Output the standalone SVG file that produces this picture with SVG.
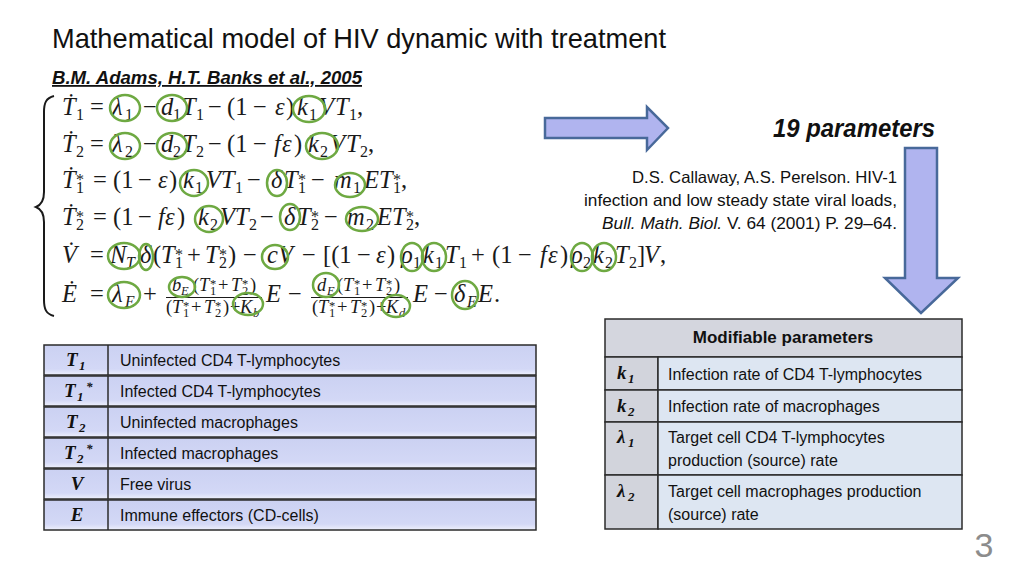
<svg xmlns="http://www.w3.org/2000/svg" width="1024" height="576" viewBox="0 0 1024 576">
<defs>
<style>
.eq{font-family:"Liberation Serif","DejaVu Serif",serif;font-size:24.5px;fill:#1a1a1a}
.i{font-style:italic}
.s{font-size:16px}
.f{font-size:18.5px}
.fs{font-size:12.5px}
.hl{fill:none;stroke:#6EA942;stroke-width:2.5}
.sans{font-family:"Liberation Sans","Arial",sans-serif;fill:#111}
.cell{font-family:"Liberation Sans","Arial",sans-serif;font-size:16px;fill:#111}
.mv{font-family:"Liberation Serif","DejaVu Serif",serif;font-weight:bold;font-style:italic;font-size:19px;fill:#111}
.mvs{font-size:13px}
.row{fill:url(#rowg);stroke:#2b2b2b;stroke-width:1.5}
.div{stroke:#2b2b2b;stroke-width:1.5}
.arrow{fill:#B0B4EF;stroke:#48699A;stroke-width:2.5;stroke-linejoin:miter}
</style>
<linearGradient id="rowg" x1="0" y1="0" x2="0" y2="1">
<stop offset="0" stop-color="#CBD1F2"/>
<stop offset="0.8" stop-color="#D3D8F6"/>
<stop offset="1" stop-color="#EEF0FC"/>
</linearGradient>
</defs>
<rect width="1024" height="576" fill="#ffffff"/>

<g id="title">
<text class="sans" x="52" y="48" font-size="28" textLength="614" lengthAdjust="spacingAndGlyphs">Mathematical model of HIV dynamic with treatment</text>
</g>
<g id="subtitle">
<text class="sans" x="52" y="84" font-size="18" font-weight="bold" font-style="italic" text-decoration="underline" textLength="310" lengthAdjust="spacingAndGlyphs">B.M. Adams, H.T. Banks et al., 2005</text>
</g>

<g id="equations">
<path d="M54,96 C46,98 44,103 44,112 L44,192 C44,200 41,205 36,207 C41,209 44,214 44,222 L44,300 C44,309 46,314 54,316" fill="none" stroke="#1a1a1a" stroke-width="2"/>
<!-- row 1 -->
<text class="eq">
<tspan class="i" x="62" y="115">Ṫ</tspan><tspan class="s" x="76" y="120">1</tspan>
<tspan x="90" y="115">=</tspan>
<tspan class="i" x="112" y="115">λ</tspan><tspan class="s" x="125" y="120">1</tspan>
<tspan x="143" y="115">−</tspan>
<tspan class="i" x="161" y="115">d</tspan><tspan class="s" x="173" y="120">1</tspan>
<tspan class="i" x="182" y="115">T</tspan><tspan class="s" x="196" y="120">1</tspan>
<tspan x="208" y="115">−</tspan><tspan x="227" y="115">(1</tspan><tspan x="253" y="115">−</tspan>
<tspan class="i" x="275" y="115">ε</tspan><tspan x="286" y="115">)</tspan>
<tspan class="i" x="297" y="115">k</tspan><tspan class="s" x="309" y="120">1</tspan>
<tspan class="i" x="319" y="115">V</tspan><tspan class="i" x="335" y="115">T</tspan><tspan class="s" x="349" y="120">1</tspan><tspan x="357" y="115">,</tspan>
</text>
<!-- row 2 -->
<text class="eq">
<tspan class="i" x="62" y="152">Ṫ</tspan><tspan class="s" x="76" y="157">2</tspan>
<tspan x="90" y="152">=</tspan>
<tspan class="i" x="112" y="152">λ</tspan><tspan class="s" x="125" y="157">2</tspan>
<tspan x="143" y="152">−</tspan>
<tspan class="i" x="161" y="152">d</tspan><tspan class="s" x="173" y="157">2</tspan>
<tspan class="i" x="182" y="152">T</tspan><tspan class="s" x="196" y="157">2</tspan>
<tspan x="208" y="152">−</tspan><tspan x="227" y="152">(1</tspan><tspan x="253" y="152">−</tspan>
<tspan class="i" x="274" y="152">f</tspan><tspan class="i" x="282" y="152">ε</tspan><tspan x="294" y="152">)</tspan>
<tspan class="i" x="308" y="152">k</tspan><tspan class="s" x="320" y="157">2</tspan>
<tspan class="i" x="330" y="152">V</tspan><tspan class="i" x="346" y="152">T</tspan><tspan class="s" x="360" y="157">2</tspan><tspan x="368" y="152">,</tspan>
</text>
<!-- row 3 -->
<text class="eq">
<tspan class="i" x="62" y="188">Ṫ</tspan><tspan class="s" x="76" y="193">1</tspan><tspan class="s" x="76" y="185">*</tspan>
<tspan x="93" y="188">=</tspan>
<tspan x="113" y="188">(1</tspan><tspan x="138" y="188">−</tspan>
<tspan class="i" x="158" y="188">ε</tspan><tspan x="169" y="188">)</tspan>
<tspan class="i" x="183" y="188">k</tspan><tspan class="s" x="195" y="193">1</tspan>
<tspan class="i" x="206" y="188">V</tspan><tspan class="i" x="221" y="188">T</tspan><tspan class="s" x="235" y="193">1</tspan>
<tspan x="247" y="188">−</tspan>
<tspan class="i" x="271" y="188">δ</tspan>
<tspan class="i" x="284" y="188">T</tspan><tspan class="s" x="298" y="193">1</tspan><tspan class="s" x="298" y="185">*</tspan>
<tspan x="311" y="188">−</tspan>
<tspan class="i" x="334" y="188">m</tspan><tspan class="s" x="353" y="193">1</tspan>
<tspan class="i" x="364" y="188">E</tspan><tspan class="i" x="379" y="188">T</tspan><tspan class="s" x="393" y="193">1</tspan><tspan class="s" x="393" y="185">*</tspan><tspan x="401" y="188">,</tspan>
</text>
<!-- row 4 -->
<text class="eq">
<tspan class="i" x="62" y="225">Ṫ</tspan><tspan class="s" x="76" y="230">2</tspan><tspan class="s" x="76" y="222">*</tspan>
<tspan x="93" y="225">=</tspan>
<tspan x="113" y="225">(1</tspan><tspan x="138" y="225">−</tspan>
<tspan class="i" x="158" y="225">f</tspan><tspan class="i" x="165" y="225">ε</tspan><tspan x="177" y="225">)</tspan>
<tspan class="i" x="198" y="225">k</tspan><tspan class="s" x="210" y="230">2</tspan>
<tspan class="i" x="220" y="225">V</tspan><tspan class="i" x="235" y="225">T</tspan><tspan class="s" x="249" y="230">2</tspan>
<tspan x="260" y="225">−</tspan>
<tspan class="i" x="284" y="225">δ</tspan>
<tspan class="i" x="297" y="225">T</tspan><tspan class="s" x="311" y="230">2</tspan><tspan class="s" x="311" y="222">*</tspan>
<tspan x="324" y="225">−</tspan>
<tspan class="i" x="347" y="225">m</tspan><tspan class="s" x="366" y="230">2</tspan>
<tspan class="i" x="377" y="225">E</tspan><tspan class="i" x="392" y="225">T</tspan><tspan class="s" x="406" y="230">2</tspan><tspan class="s" x="406" y="222">*</tspan><tspan x="414" y="225">,</tspan>
</text>
<!-- row 5 -->
<text class="eq">
<tspan class="i" x="62" y="263">V̇</tspan>
<tspan x="90" y="263">=</tspan>
<tspan class="i" x="110" y="263">N</tspan><tspan class="s i" x="126" y="268">T</tspan>
<tspan class="i" x="140" y="263">δ</tspan><tspan x="153" y="263">(</tspan>
<tspan class="i" x="161" y="263">T</tspan><tspan class="s" x="175" y="268">1</tspan><tspan class="s" x="175" y="260">*</tspan>
<tspan x="187" y="263">+</tspan>
<tspan class="i" x="205" y="263">T</tspan><tspan class="s" x="219" y="268">2</tspan><tspan class="s" x="219" y="260">*</tspan><tspan x="228" y="263">)</tspan>
<tspan x="243" y="263">−</tspan>
<tspan class="i" x="267" y="263">c</tspan><tspan class="i" x="278" y="263">V</tspan>
<tspan x="302" y="263">−</tspan>
<tspan x="323" y="263">[(1</tspan><tspan x="357" y="263">−</tspan>
<tspan class="i" x="376" y="263">ε</tspan><tspan x="387" y="263">)</tspan>
<tspan class="i" x="401" y="263">ρ</tspan><tspan class="s" x="413" y="268">1</tspan>
<tspan class="i" x="423" y="263">k</tspan><tspan class="s" x="435" y="268">1</tspan>
<tspan class="i" x="445" y="263">T</tspan><tspan class="s" x="459" y="268">1</tspan>
<tspan x="471" y="263">+</tspan>
<tspan x="492" y="263">(1</tspan><tspan x="518" y="263">−</tspan>
<tspan class="i" x="540" y="263">f</tspan><tspan class="i" x="548" y="263">ε</tspan><tspan x="560" y="263">)</tspan>
<tspan class="i" x="571" y="263">ρ</tspan><tspan class="s" x="583" y="268">2</tspan>
<tspan class="i" x="593" y="263">k</tspan><tspan class="s" x="605" y="268">2</tspan>
<tspan class="i" x="615" y="263">T</tspan><tspan class="s" x="629" y="268">2</tspan>
<tspan x="637" y="263">]</tspan><tspan class="i" x="644" y="263">V</tspan><tspan x="660" y="263">,</tspan>
</text>
<!-- row 6 -->
<text class="eq">
<tspan class="i" x="62" y="302">Ė</tspan>
<tspan x="90" y="302">=</tspan>
<tspan class="i" x="112" y="302">λ</tspan><tspan class="s i" x="125" y="307">E</tspan>
<tspan x="143" y="302">+</tspan>
<tspan class="i" x="266" y="302">E</tspan>
<tspan x="288" y="302">−</tspan>
<tspan class="i" x="413" y="302">E</tspan>
<tspan x="434" y="302">−</tspan>
<tspan class="i" x="454" y="302">δ</tspan><tspan class="s i" x="467" y="307">E</tspan>
<tspan class="i" x="478" y="302">E</tspan><tspan x="494" y="302">.</tspan>
</text>
<text class="eq f">
<tspan class="i" x="172" y="291">b</tspan><tspan class="fs i" x="181" y="295">E</tspan>
<tspan x="193" y="291">(</tspan><tspan class="i" x="199" y="291">T</tspan><tspan class="fs" x="210" y="295">1</tspan><tspan class="fs" x="210" y="288">*</tspan>
<tspan x="218" y="291">+</tspan><tspan class="i" x="231" y="291">T</tspan><tspan class="fs" x="242" y="295">2</tspan><tspan class="fs" x="242" y="288">*</tspan><tspan x="250" y="291">)</tspan>
<tspan x="166" y="313">(</tspan><tspan class="i" x="172" y="313">T</tspan><tspan class="fs" x="183" y="317">1</tspan><tspan class="fs" x="183" y="310">*</tspan>
<tspan x="191" y="313">+</tspan><tspan class="i" x="204" y="313">T</tspan><tspan class="fs" x="215" y="317">2</tspan><tspan class="fs" x="215" y="310">*</tspan><tspan x="223" y="313">)</tspan>
<tspan x="230" y="313">+</tspan><tspan class="i" x="240" y="313">K</tspan><tspan class="fs i" x="253" y="317">b</tspan>
<tspan class="i" x="317" y="291">d</tspan><tspan class="fs i" x="327" y="295">E</tspan>
<tspan x="337" y="291">(</tspan><tspan class="i" x="343" y="291">T</tspan><tspan class="fs" x="354" y="295">1</tspan><tspan class="fs" x="354" y="288">*</tspan>
<tspan x="362" y="291">+</tspan><tspan class="i" x="375" y="291">T</tspan><tspan class="fs" x="386" y="295">2</tspan><tspan class="fs" x="386" y="288">*</tspan><tspan x="394" y="291">)</tspan>
<tspan x="312" y="313">(</tspan><tspan class="i" x="318" y="313">T</tspan><tspan class="fs" x="329" y="317">1</tspan><tspan class="fs" x="329" y="310">*</tspan>
<tspan x="337" y="313">+</tspan><tspan class="i" x="350" y="313">T</tspan><tspan class="fs" x="361" y="317">2</tspan><tspan class="fs" x="361" y="310">*</tspan><tspan x="369" y="313">)</tspan>
<tspan x="376" y="313">+</tspan><tspan class="i" x="386" y="313">K</tspan><tspan class="fs i" x="399" y="317">d</tspan>
</text>
<line x1="166" y1="297.5" x2="262" y2="297.5" stroke="#1a1a1a" stroke-width="1"/>
<line x1="311" y1="297.5" x2="408" y2="297.5" stroke="#1a1a1a" stroke-width="1"/>
</g>

<g id="highlights">
<ellipse class="hl" cx="125" cy="108" rx="15" ry="13"/>
<ellipse class="hl" cx="172" cy="108" rx="15" ry="13"/>
<ellipse class="hl" cx="309" cy="109" rx="16" ry="13"/>
<ellipse class="hl" cx="125" cy="146" rx="15" ry="13"/>
<ellipse class="hl" cx="172" cy="146" rx="15" ry="13"/>
<ellipse class="hl" cx="322" cy="146" rx="16" ry="13"/>
<ellipse class="hl" cx="194" cy="183" rx="14" ry="13"/>
<ellipse class="hl" cx="277" cy="183" rx="10" ry="13"/>
<ellipse class="hl" cx="350" cy="185" rx="15" ry="12"/>
<ellipse class="hl" cx="209" cy="219" rx="14" ry="13"/>
<ellipse class="hl" cx="290" cy="217" rx="10" ry="13"/>
<ellipse class="hl" cx="362" cy="219" rx="16" ry="12"/>
<ellipse class="hl" cx="124" cy="256" rx="16" ry="13"/>
<ellipse class="hl" cx="146" cy="257" rx="7" ry="13"/>
<ellipse class="hl" cx="275" cy="257" rx="13" ry="12"/>
<ellipse class="hl" cx="412" cy="257" rx="11" ry="14"/>
<ellipse class="hl" cx="434" cy="257" rx="12" ry="14"/>
<ellipse class="hl" cx="582" cy="257" rx="11" ry="14"/>
<ellipse class="hl" cx="604" cy="257" rx="12" ry="14"/>
<ellipse class="hl" cx="124" cy="295" rx="16" ry="13"/>
<ellipse class="hl" cx="182" cy="287" rx="13" ry="10"/>
<ellipse class="hl" cx="248" cy="304" rx="15" ry="11"/>
<ellipse class="hl" cx="326" cy="285" rx="13" ry="12"/>
<ellipse class="hl" cx="396" cy="306" rx="14" ry="11"/>
<ellipse class="hl" cx="465" cy="295" rx="13" ry="14"/>
</g>

<g id="params-count">
<text class="sans" x="773" y="137" font-size="25" font-weight="bold" font-style="italic" textLength="162" lengthAdjust="spacingAndGlyphs">19 parameters</text>
</g>

<g id="citation" class="sans" font-size="16.5" text-anchor="end">
<text x="897" y="183" textLength="265" lengthAdjust="spacingAndGlyphs">D.S. Callaway, A.S. Perelson. HIV-1</text>
<text x="897" y="206" textLength="313" lengthAdjust="spacingAndGlyphs">infection and low steady state viral loads,</text>
<text x="897" y="229" textLength="295" lengthAdjust="spacingAndGlyphs"><tspan font-style="italic">Bull. Math. Biol.</tspan> V. 64 (2001) P. 29–64.</text>
</g>

<g id="connectors">
<path class="arrow" d="M545,118 L647,118 L647,107 L668,128 L647,150 L647,138 L545,138 Z"/>
<path class="arrow" d="M905,148 L937,148 L937,278 L958,278 L921,313 L885,278 L905,278 Z"/>
</g>

<g id="variables-table">
<g id="var-T1">
<rect class="row" x="44" y="345" width="492" height="30"/>
<line class="div" x1="108" y1="345" x2="108" y2="375"/>
<text class="mv" x="66" y="366">T<tspan class="mvs" x="79" y="370">1</tspan></text>
<text class="cell" x="120" y="366">Uninfected CD4 T-lymphocytes</text>
</g>
<g id="var-T1s">
<rect class="row" x="44" y="376" width="492" height="30"/>
<line class="div" x1="108" y1="376" x2="108" y2="406"/>
<text class="mv" x="64" y="397">T<tspan class="mvs" x="77" y="401">1</tspan><tspan class="mvs" x="86" y="391" font-size="11">*</tspan></text>
<text class="cell" x="120" y="397">Infected CD4 T-lymphocytes</text>
</g>
<g id="var-T2">
<rect class="row" x="44" y="407" width="492" height="30"/>
<line class="div" x1="108" y1="407" x2="108" y2="437"/>
<text class="mv" x="66" y="428">T<tspan class="mvs" x="79" y="432">2</tspan></text>
<text class="cell" x="120" y="428">Uninfected macrophages</text>
</g>
<g id="var-T2s">
<rect class="row" x="44" y="438" width="492" height="30"/>
<line class="div" x1="108" y1="438" x2="108" y2="468"/>
<text class="mv" x="64" y="459">T<tspan class="mvs" x="77" y="463">2</tspan><tspan class="mvs" x="86" y="453" font-size="11">*</tspan></text>
<text class="cell" x="120" y="459">Infected macrophages</text>
</g>
<g id="var-V">
<rect class="row" x="44" y="469" width="492" height="30"/>
<line class="div" x1="108" y1="469" x2="108" y2="499"/>
<text class="mv" x="77" y="490" text-anchor="middle">V</text>
<text class="cell" x="120" y="490">Free virus</text>
</g>
<g id="var-E">
<rect class="row" x="44" y="500" width="492" height="30"/>
<line class="div" x1="108" y1="500" x2="108" y2="530"/>
<text class="mv" x="77" y="521" text-anchor="middle">E</text>
<text class="cell" x="120" y="521">Immune effectors (CD-cells)</text>
</g>
</g>

<g id="params-table">
<g id="params-header">
<rect x="605" y="319" width="357" height="38" fill="#D4D6DE" stroke="#2b2b2b" stroke-width="1.5"/>
<text class="sans" x="783" y="343" font-size="17" font-weight="bold" text-anchor="middle">Modifiable parameters</text>
</g>
<g id="param-k1">
<rect x="605" y="357" width="53" height="33" fill="#D2D4DC" stroke="#2b2b2b" stroke-width="1.5"/>
<rect x="658" y="357" width="304" height="33" fill="#DDE6F2" stroke="#2b2b2b" stroke-width="1.5"/>
<text class="mv" x="617" y="379">k<tspan class="mvs" x="628" y="383">1</tspan></text>
<text class="cell" x="668" y="380">Infection rate of CD4 T-lymphocytes</text>
</g>
<g id="param-k2">
<rect x="605" y="390" width="53" height="32" fill="#D2D4DC" stroke="#2b2b2b" stroke-width="1.5"/>
<rect x="658" y="390" width="304" height="32" fill="#DDE6F2" stroke="#2b2b2b" stroke-width="1.5"/>
<text class="mv" x="617" y="412">k<tspan class="mvs" x="628" y="416">2</tspan></text>
<text class="cell" x="668" y="412">Infection rate of macrophages</text>
</g>
<g id="param-l1">
<rect x="605" y="422" width="53" height="53" fill="#D2D4DC" stroke="#2b2b2b" stroke-width="1.5"/>
<rect x="658" y="422" width="304" height="53" fill="#DDE6F2" stroke="#2b2b2b" stroke-width="1.5"/>
<text class="mv" x="617" y="443">λ<tspan class="mvs" x="628" y="447">1</tspan></text>
<text class="cell" x="668" y="443">Target cell CD4 T-lymphocytes</text>
<text class="cell" x="668" y="466">production (source) rate</text>
</g>
<g id="param-l2">
<rect x="605" y="475" width="53" height="54" fill="#D2D4DC" stroke="#2b2b2b" stroke-width="1.5"/>
<rect x="658" y="475" width="304" height="54" fill="#DDE6F2" stroke="#2b2b2b" stroke-width="1.5"/>
<text class="mv" x="617" y="497">λ<tspan class="mvs" x="628" y="501">2</tspan></text>
<text class="cell" x="668" y="497">Target cell macrophages production</text>
<text class="cell" x="668" y="520">(source) rate</text>
</g>
</g>

<g id="page-number">
<text class="sans" x="984" y="557" font-size="34" text-anchor="middle" style="fill:#8C8C8C">3</text>
</g>
</svg>
